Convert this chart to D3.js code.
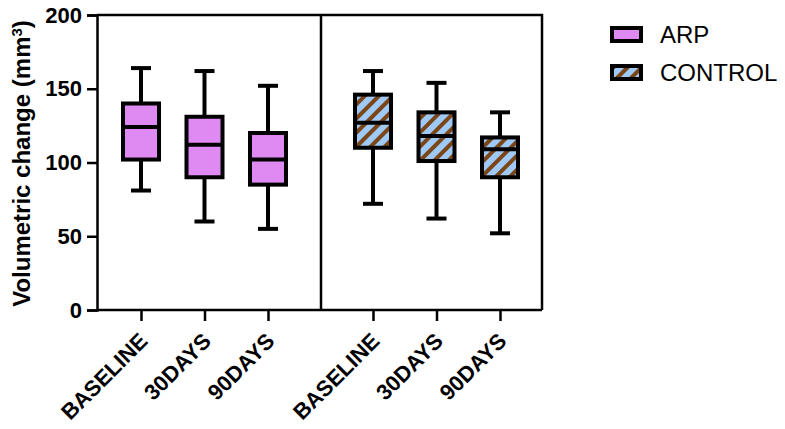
<!DOCTYPE html>
<html>
<head>
<meta charset="utf-8">
<script src="https://cdn.jsdelivr.net/npm/d3@7"></script>
<style>
    body { margin: 0; background: #fff; }
    svg { display: block; font-family: Arial, "Liberation Sans", sans-serif; }
</style>
</head>
<body>
<div id="chart-div"></div>
<script>
//---------------------------------//
// Box plot data                   //
//---------------------------------//

var timepoints = ['BASELINE', '30DAYS', '90DAYS'];        //Categories within each group
var groups     = ['ARP', 'CONTROL'];                       //Series / panels

// five-number summaries: [min, q1, median, q3, max]
var arpStats     = [[81, 102, 124, 140, 164], [60, 90, 112, 131, 162], [55, 85, 102, 120, 152]];
var controlStats = [[72, 110, 127, 146, 162], [62, 101, 118, 134, 154], [52, 90, 109, 117, 134]];

var yTicks = [0, 50, 100, 150, 200];
var yLabel = 'Volumetric change (mm';

window.Chart = window.Chart || {};

Chart.init = function() {
    Chart.setup.initConsts();
    Chart.setup.initSvg();
    Chart.setup.initScales();
    Chart.draw.axes();
    Chart.draw.boxes(arpStats, Chart.xLeft, Chart.colors.arp);
    Chart.draw.boxes(controlStats, Chart.xRight, 'url(#hatch)');
    Chart.draw.legend();
};

Chart.setup = {
    initConsts: function() {
        Chart.width = 785;
        Chart.height = 429;

        Chart.left = 97;            //Plot frame
        Chart.right = 542;
        Chart.top = 15;
        Chart.bottom = 310;
        Chart.divider = 321;        //Line between the two groups

        Chart.boxW = 36;            //Box width (stroke excluded)
        Chart.capW = 20;            //Whisker cap width
        Chart.lineW = 4;

        Chart.colors = {
            arp: '#df8af3',
            blue: '#9fcaf7',
            brown: '#7a4517'
        };
    },

    initSvg: function() {
        Chart.svg = d3.select('#chart-div')
                      .append('svg')
                       .attr('width', Chart.width)
                       .attr('height', Chart.height);

        // diagonal hatch for the CONTROL boxes
        var pat = Chart.svg.append('defs').append('pattern')
                      .attr('id', 'hatch')
                      .attr('patternUnits', 'userSpaceOnUse')
                      .attr('width', 10).attr('height', 10)
                      .attr('patternTransform', 'rotate(45)');
        pat.append('rect').attr('width', 10).attr('height', 10).attr('fill', Chart.colors.blue);
        pat.append('rect').attr('width', 4).attr('height', 10).attr('fill', Chart.colors.brown);
    },

    initScales: function() {
        Chart.y = d3.scaleLinear()
                    .domain([0, 200])
                    .range([Chart.bottom, Chart.top]);

        Chart.xLeft = d3.scalePoint()                       //ARP panel
                        .domain(timepoints)
                        .range([Chart.left + 44, Chart.divider - 53]);
        Chart.xRight = d3.scalePoint()                      //CONTROL panel
                        .domain(timepoints)
                        .range([Chart.divider + 52, Chart.right - 42]);
    }
};

Chart.draw = {
    axes: function() {
        var svg = Chart.svg;

        // frame and divider
        svg.append('path')
           .attr('d', 'M' + Chart.left + ',' + Chart.top + 'H' + Chart.right + 'V' + Chart.bottom)
           .attr('fill', 'none').attr('stroke', '#000').attr('stroke-width', 2.5);
        svg.append('line')
           .attr('x1', Chart.divider).attr('x2', Chart.divider)
           .attr('y1', Chart.top).attr('y2', Chart.bottom)
           .attr('stroke', '#000').attr('stroke-width', 2.5);

        var yAxis = svg.append('g')
                       .attr('transform', 'translate(' + Chart.left + ',0)')
                       .call(d3.axisLeft(Chart.y).tickValues(yTicks).tickSize(10).tickPadding(5));

        var xAxisL = svg.append('g')
                        .attr('transform', 'translate(0,' + Chart.bottom + ')')
                        .call(d3.axisBottom(Chart.xLeft).tickSize(11).tickSizeOuter(0));
        var xAxisR = svg.append('g')
                        .attr('transform', 'translate(0,' + Chart.bottom + ')')
                        .call(d3.axisBottom(Chart.xRight).tickSize(11).tickSizeOuter(0));

        [yAxis, xAxisL, xAxisR].forEach(function(ax) {
            ax.selectAll('.domain, line').attr('stroke', '#000').attr('stroke-width', 2.5);
            ax.selectAll('text')
              .attr('fill', '#000')
              .style('font-size', '22px')
              .style('font-weight', 'bold');
        });

        // extend x domain lines to the frame edges
        xAxisL.select('.domain').attr('d', 'M' + Chart.left + ',0H' + Chart.divider);
        xAxisR.select('.domain').attr('d', 'M' + Chart.divider + ',0H' + Chart.right);

        [xAxisL, xAxisR].forEach(function(ax) {
            ax.selectAll('.tick text')
              .attr('text-anchor', 'end')
              .attr('x', 0).attr('y', 0).attr('dy', '0.35em')
              .attr('transform', 'translate(2,27) rotate(-45)');
        });

        // y axis title
        var title = svg.append('text')
                       .attr('transform', 'translate(30,' + ((Chart.top + Chart.bottom) / 2 + 1) + ') rotate(-90)')
                       .attr('text-anchor', 'middle')
                       .style('font-size', '24px')
                       .style('font-weight', 'bold')
                       .text(yLabel);
        title.append('tspan').attr('baseline-shift', 'super').style('font-size', '15px').text('3');
        title.append('tspan').text(')');
    },

    boxes: function(stats, x, fill) {
        var g = Chart.svg.append('g');
        var bw = Chart.boxW, cw = Chart.capW;

        var box = g.selectAll('g.box')
                   .data(stats)
                   .enter().append('g')
                    .attr('class', 'box')
                    .attr('transform', function(d, i) { return 'translate(' + x(timepoints[i]) + ',0)'; });

        box.append('line')                                   //Whisker, min to max
           .attr('y1', function(d) { return Chart.y(d[0]); })
           .attr('y2', function(d) { return Chart.y(d[4]); })
           .attr('stroke', '#000').attr('stroke-width', Chart.lineW);

        [0, 4].forEach(function(k) {                        //Caps
            box.append('line')
               .attr('x1', -cw / 2).attr('x2', cw / 2)
               .attr('y1', function(d) { return Chart.y(d[k]); })
               .attr('y2', function(d) { return Chart.y(d[k]); })
               .attr('stroke', '#000').attr('stroke-width', Chart.lineW);
        });

        box.append('rect')                                   //IQR box
           .attr('x', -bw / 2).attr('width', bw)
           .attr('y', function(d) { return Chart.y(d[3]); })
           .attr('height', function(d) { return Chart.y(d[1]) - Chart.y(d[3]); })
           .attr('fill', fill)
           .attr('stroke', '#000').attr('stroke-width', Chart.lineW);

        box.append('line')                                   //Median
           .attr('x1', -bw / 2).attr('x2', bw / 2)
           .attr('y1', function(d) { return Chart.y(d[2]); })
           .attr('y2', function(d) { return Chart.y(d[2]); })
           .attr('stroke', '#000').attr('stroke-width', Chart.lineW);
    },

    legend: function() {
        var fills = [Chart.colors.arp, 'url(#hatch)'];
        var item = Chart.svg.selectAll('g.legend')
                        .data(groups)
                        .enter().append('g')
                         .attr('class', 'legend')
                         .attr('transform', function(d, i) { return 'translate(612,' + (28 + i * 38) + ')'; });

        item.append('rect')
            .attr('width', 29).attr('height', 13)
            .attr('fill', function(d, i) { return fills[i]; })
            .attr('stroke', '#000').attr('stroke-width', 4);

        item.append('text')
            .attr('x', 48).attr('y', 15)
            .style('font-size', '24px')
            .text(function(d) { return d; });
    }
};

document.addEventListener('DOMContentLoaded', Chart.init);
</script>
</body>
</html>
